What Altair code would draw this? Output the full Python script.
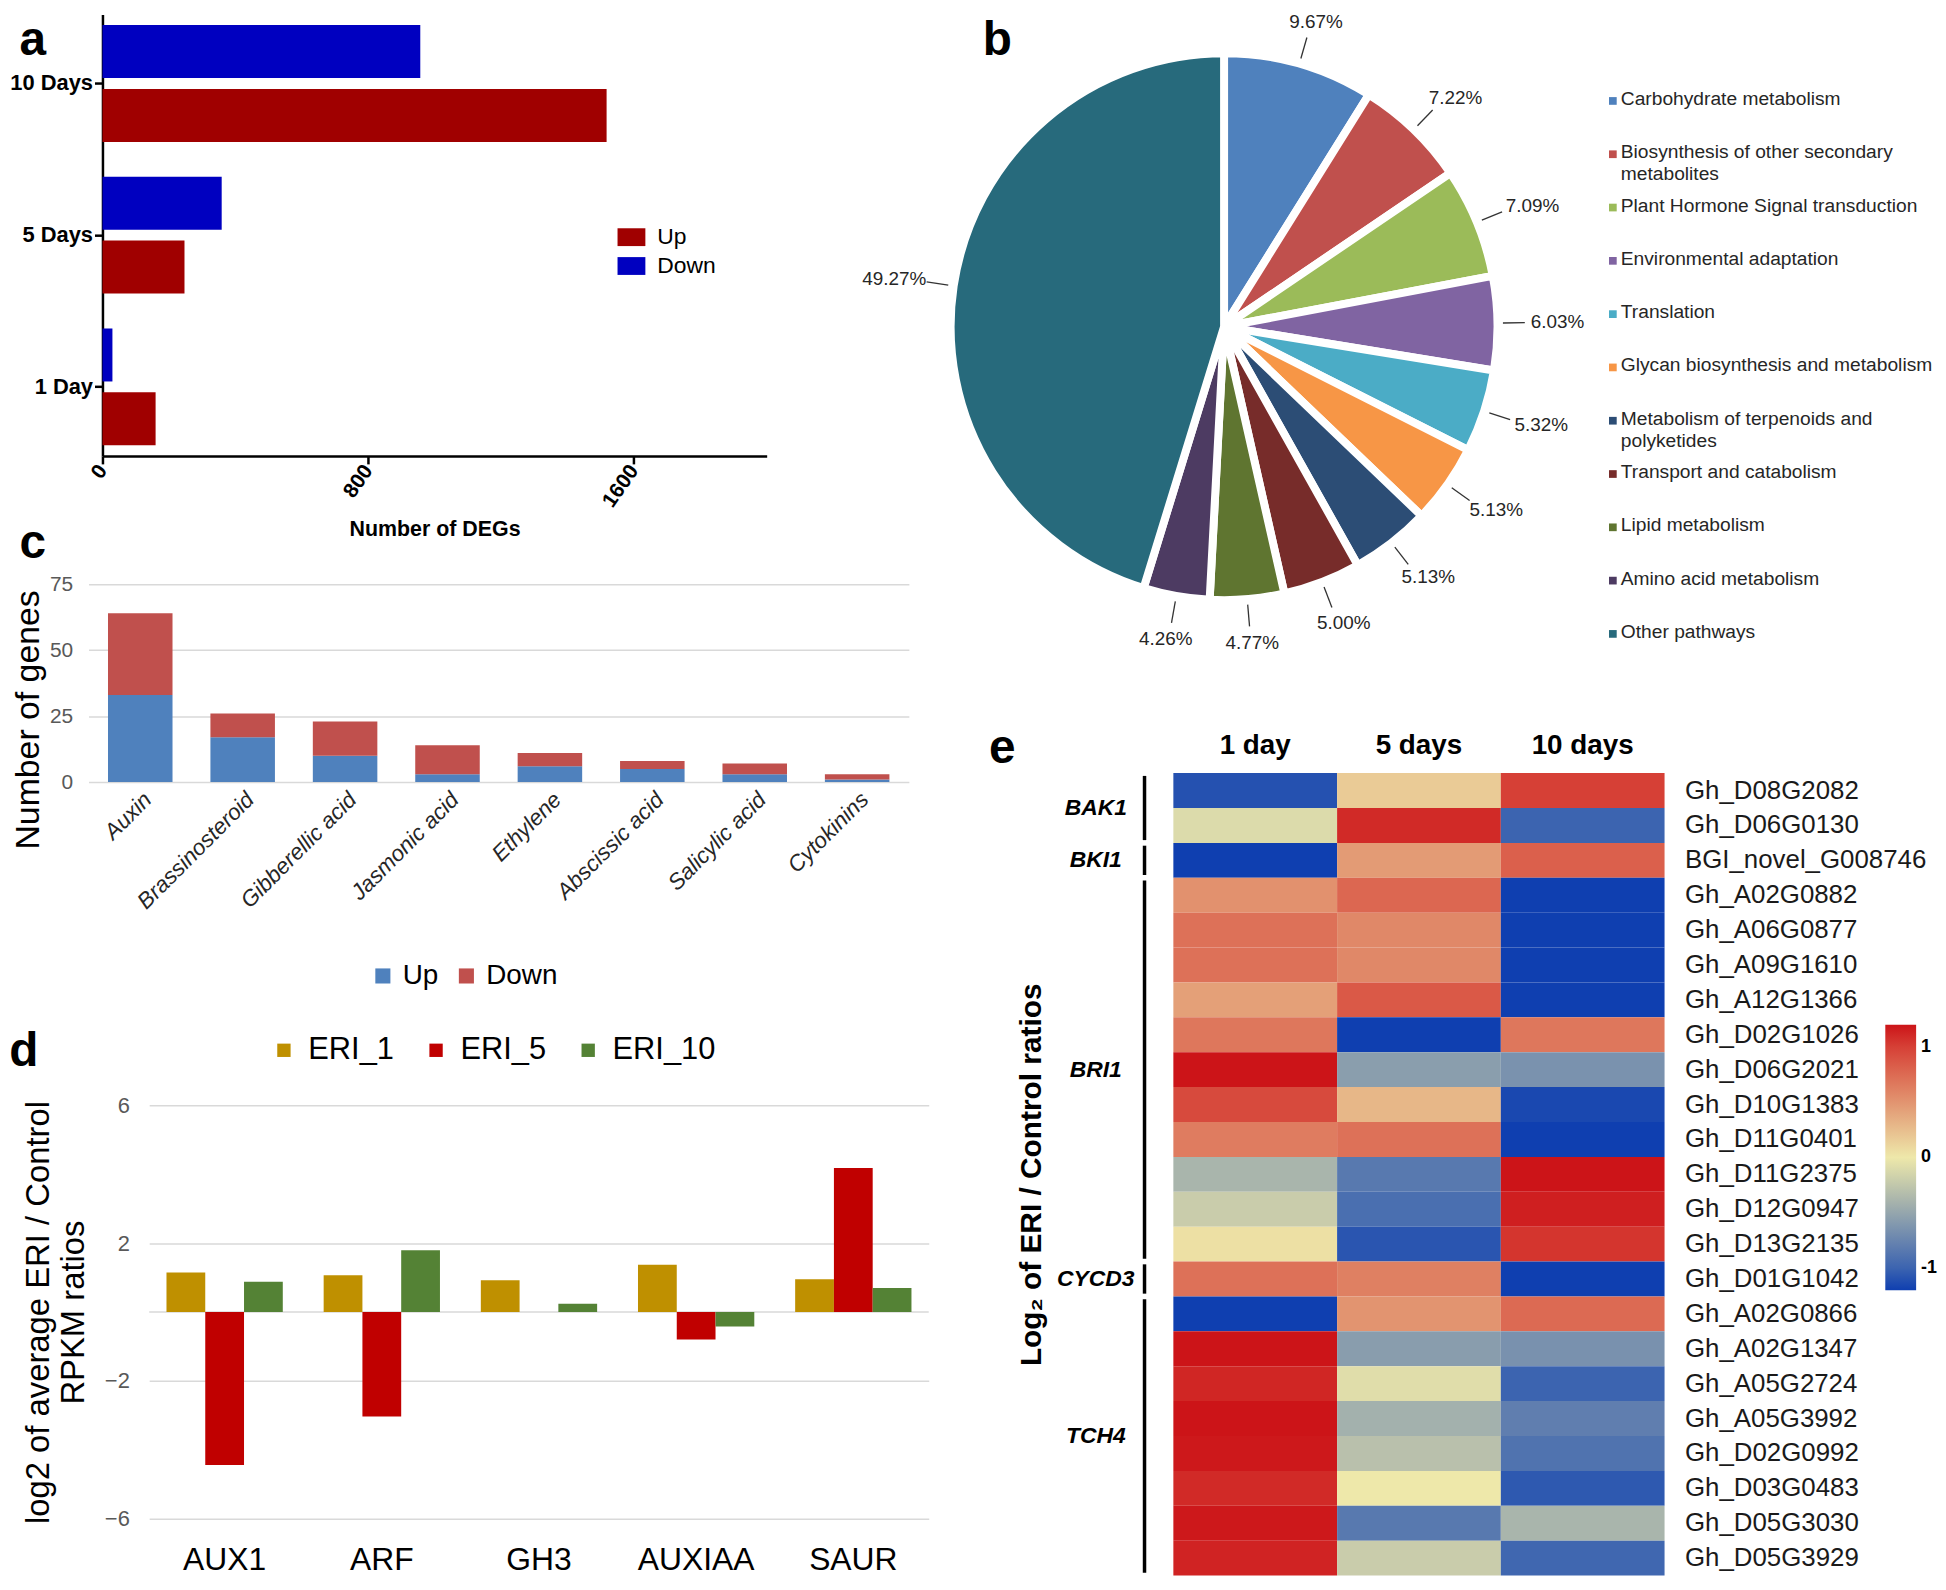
import altair as alt
import pandas as pd

FONT = "Liberation Sans"

# ---------------- data ----------------
# a
a_days = ["10 Days", "5 Days", "1 Day"]
a_up = [1518, 247, 160]
a_down = [957, 359, 30]

# b
pie_names = ["Carbohydrate metabolism", "Biosynthesis of other secondary metabolites",
             "Plant Hormone Signal transduction", "Environmental adaptation", "Translation",
             "Glycan biosynthesis and metabolism", "Metabolism of terpenoids and polyketides",
             "Transport and catabolism", "Lipid metabolism", "Amino acid metabolism", "Other pathways"]
pie_legend_text = ["Carbohydrate metabolism", "Biosynthesis of other secondary\nmetabolites",
                   "Plant Hormone Signal transduction", "Environmental adaptation", "Translation",
                   "Glycan biosynthesis and metabolism", "Metabolism of terpenoids and\npolyketides",
                   "Transport and catabolism", "Lipid metabolism", "Amino acid metabolism", "Other pathways"]
pie_values = [9.67, 7.22, 7.09, 6.03, 5.32, 5.13, 5.13, 5.00, 4.77, 4.26, 49.27]
pie_colors = ["#4F81BD", "#C0504D", "#9BBB59", "#8064A2", "#4BACC6", "#F79646",
              "#2C4D75", "#772C2A", "#5F7530", "#4D3B62", "#276A7C"]

# c
c_cats = ["Auxin", "Brassinosteroid", "Gibberellic acid", "Jasmonic acid", "Ethylene",
          "Abscissic acid", "Salicylic acid", "Cytokinins"]
c_up = [33, 17, 10, 3, 6, 5, 3, 1]
c_down = [31, 9, 13, 11, 5, 3, 4, 2]

# d
d_genes = ["AUX1", "ARF", "GH3", "AUXIAA", "SAUR"]
d_series = ["ERI_1", "ERI_5", "ERI_10"]
d_eri1 = [1.15, 1.07, 0.92, 1.37, 0.95]
d_eri5 = [-4.44, -3.03, 0.0, -0.80, 4.18]
d_eri10 = [0.88, 1.79, 0.24, -0.42, 0.70]

# e
e_days = ["1 day", "5 days", "10 days"]
e_genes = ["Gh_D08G2082", "Gh_D06G0130", "BGI_novel_G008746", "Gh_A02G0882", "Gh_A06G0877",
           "Gh_A09G1610", "Gh_A12G1366", "Gh_D02G1026", "Gh_D06G2021", "Gh_D10G1383",
           "Gh_D11G0401", "Gh_D11G2375", "Gh_D12G0947", "Gh_D13G2135", "Gh_D01G1042",
           "Gh_A02G0866", "Gh_A02G1347", "Gh_A05G2724", "Gh_A05G3992", "Gh_D02G0992",
           "Gh_D03G0483", "Gh_D05G3030", "Gh_D05G3929"]
e_day1 = [-1.1, -0.1, -1.3, 0.52, 0.71, 0.71, 0.43, 0.67, 1.3, 0.94, 0.64, -0.39, -0.21,
          0.05, 0.71, -1.3, 1.3, 1.12, 1.3, 1.18, 1.1, 1.18, 1.13]
e_day5 = [0.17, 1.1, 0.46, 0.77, 0.57, 0.57, 0.85, -1.3, -0.56, 0.29, 0.71, -0.84, -0.92,
          -1.08, 0.62, 0.5, -0.57, -0.08, -0.42, -0.3, 0.0, -0.84, -0.21]
e_day10 = [1.0, -1.0, 0.81, -1.3, -1.3, -1.3, -1.3, 0.67, -0.65, -1.15, -1.3, 1.25, 1.15,
           1.05, -1.3, 0.75, -0.66, -1.0, -0.8, -0.89, -1.06, -0.39, -0.98]
e_groups = ["BAK1", "BKI1", "BRI1", "CYCD3", "TCH4"]
e_group_sizes = [2, 1, 11, 1, 8]


# ---------------- helpers ----------------
def letter(ch, dx, dy):
    return alt.Chart(pd.DataFrame({"t": [ch]})).mark_text(
        font=FONT, fontSize=48, fontWeight="bold", align="center", baseline="alphabetic", color="black"
    ).encode(text="t:N", x=alt.value(dx), y=alt.value(dy))


def spacer(w, h=1):
    return alt.Chart(pd.DataFrame({"s": [0]})).mark_rule(opacity=0).encode(
        x=alt.value(0), y=alt.value(0), y2=alt.value(1)
    ).properties(width=w, height=h)


def H(*charts, s=0):
    return alt.hconcat(*charts, spacing=s).resolve_scale(color="independent")


def V(*charts, s=0):
    return alt.vconcat(*charts, spacing=s).resolve_scale(color="independent")


RECT_SYM = "M-1,-0.64H1V0.64H-1Z"

# ---------------- panel a ----------------
df_a = pd.DataFrame({"day": a_days * 2, "dir": ["Up"] * 3 + ["Down"] * 3, "n": a_up + a_down})
ax_a = dict(domainColor="black", domainWidth=2.5, tickColor="black", tickWidth=2.5, tickSize=8,
            labelFont=FONT, labelFontWeight="bold", labelColor="black")
bars_a = alt.Chart(df_a).mark_bar().encode(
    x=alt.X("n:Q", stack=None, scale=alt.Scale(domain=[0, 2000], nice=False),
            axis=alt.Axis(values=[0, 800, 1600], format="d", labelAngle=-55, grid=False, labelFontSize=21,
                          title="Number of DEGs", titleFont=FONT, titleFontSize=21.5, titleFontWeight="bold",
                          titleColor="black", titlePadding=8, labelPadding=3, **ax_a)),
    y=alt.Y("day:N", sort=a_days, scale=alt.Scale(paddingInner=0.23, paddingOuter=0.07),
            axis=alt.Axis(title=None, labelPadding=2, labelFontSize=22, **ax_a)),
    yOffset=alt.YOffset("dir:N", sort=["Down", "Up"], scale=alt.Scale(paddingInner=0.17)),
    color=alt.Color("dir:N", scale=alt.Scale(domain=["Up", "Down"], range=["#A00000", "#0000C0"]),
                    legend=alt.Legend(title=None, orient="none", legendX=518, legendY=210,
                                      symbolType=RECT_SYM, symbolSize=784, symbolStrokeWidth=0,
                                      labelFont=FONT, labelFontSize=23, labelColor="black",
                                      rowPadding=3, labelOffset=12)),
)
chart_a = alt.layer(bars_a, letter("a", -70, 41)).properties(width=668, height=444)

# ---------------- panel b ----------------
R = 275
W_B, H_B = 560, 628
df_b = pd.DataFrame({"cat": pie_names, "v": pie_values, "idx": list(range(len(pie_names))),
                     "pct": [f"{v:.2f}%" for v in pie_values], "legend": pie_legend_text})
color_b = alt.Color("cat:N", scale=alt.Scale(domain=pie_names, range=pie_colors), legend=None)
xs = alt.Scale(domain=[-W_B / 2 / R, W_B / 2 / R], nice=False, zero=False)
ys = alt.Scale(domain=[-H_B / 2 / R, H_B / 2 / R], nice=False, zero=False)

arc_b = alt.Chart(df_b).mark_arc(outerRadius=R, stroke="white", strokeWidth=8).encode(
    theta=alt.Theta("v:Q", stack=True), color=color_b, order=alt.Order("idx:Q"))

geo_b = alt.Chart(df_b).transform_joinaggregate(total="sum(v)").transform_window(
    cum="sum(v)", sort=[alt.SortField("idx", order="ascending")], frame=[None, 0]
).transform_calculate(mid="2*PI*(datum.cum - datum.v/2)/datum.total").transform_calculate(
    x1="sin(datum.mid)*1.02", y1="cos(datum.mid)*1.02",
    x2="sin(datum.mid)*1.1", y2="cos(datum.mid)*1.1",
    xt="sin(datum.mid)*1.22", yt="cos(datum.mid)*1.16")
lead_b = geo_b.mark_rule(color="#333333", strokeWidth=1.3).encode(
    x=alt.X("x1:Q", scale=xs, axis=None), y=alt.Y("y1:Q", scale=ys, axis=None),
    x2="x2:Q", y2="y2:Q")
pct_b = geo_b.mark_text(font=FONT, fontSize=19, color="#262626").encode(
    x=alt.X("xt:Q", scale=xs, axis=None), y=alt.Y("yt:Q", scale=ys, axis=None), text="pct:N")

leg_y = alt.Y("cat:N", sort=pie_names, scale=alt.Scale(type="point", range=[87, 623], padding=0), axis=None)
leg_sq = alt.Chart(df_b).mark_square(size=60, opacity=1).encode(x=alt.value(671), y=leg_y, color=color_b)
leg_tx = alt.Chart(df_b).mark_text(align="left", baseline="top", dy=-11, lineBreak="\n", font=FONT,
                                   fontSize=19.3, lineHeight=22, color="#262626").encode(
    x=alt.value(679), y=leg_y, text="legend:N")
chart_b = alt.layer(arc_b, lead_b, pct_b, leg_sq, leg_tx, letter("b", 52, 41)).resolve_scale(
    y="independent").properties(width=W_B, height=H_B)

# ---------------- panel c ----------------
df_c = pd.DataFrame({"hormone": c_cats * 2, "dir": ["Up"] * 8 + ["Down"] * 8,
                     "ord": [0] * 8 + [1] * 8, "n": c_up + c_down})
bars_c = alt.Chart(df_c).mark_bar().encode(
    x=alt.X("hormone:N", sort=c_cats, scale=alt.Scale(paddingInner=0.37, paddingOuter=0.19),
            axis=alt.Axis(title=None, labelAngle=-45, labelFont=FONT, labelFontStyle="italic",
                          labelFontSize=22.5, labelColor="#262626", ticks=False, domain=False, labelPadding=6)),
    y=alt.Y("n:Q", stack=True, scale=alt.Scale(domain=[0, 75], nice=False),
            axis=alt.Axis(values=[0, 25, 50, 75], title="Number of genes", grid=True, gridColor="#D9D9D9",
                          gridWidth=1.5, domain=False, ticks=False, labelFont=FONT, labelFontSize=21,
                          labelColor="#595959", labelPadding=16, titleFont=FONT, titleFontSize=34,
                          titleFontWeight="normal", titleColor="black", titlePadding=4, titleY=136)),
    color=alt.Color("dir:N", scale=alt.Scale(domain=["Up", "Down"], range=["#4F81BD", "#C0504D"]),
                    legend=alt.Legend(title=None, orient="none", direction="horizontal", legendX=282,
                                      legendY=380, symbolType="square", symbolSize=230, symbolStrokeWidth=0,
                                      labelFont=FONT, labelFontSize=28, labelColor="black",
                                      columnPadding=14, labelOffset=6)),
    order=alt.Order("ord:Q"),
)
chart_c = alt.layer(bars_c, letter("c", -56, -26)).properties(width=825, height=199)

# ---------------- panel d ----------------
df_d = pd.DataFrame({"gene": d_genes * 3, "series": [s for s in d_series for _ in d_genes],
                     "val": d_eri1 + d_eri5 + d_eri10})
bars_d = alt.Chart(df_d).mark_bar().encode(
    x=alt.X("gene:N", sort=d_genes, scale=alt.Scale(paddingInner=0.26, paddingOuter=0.11),
            axis=alt.Axis(title=None, labelAngle=0, labelFont=FONT, labelFontSize=32, labelColor="black",
                          ticks=False, domain=False, labelPadding=26)),
    xOffset=alt.XOffset("series:N", sort=d_series, scale=alt.Scale(paddingInner=0, paddingOuter=0)),
    y=alt.Y("val:Q", stack=None, scale=alt.Scale(domain=[-6, 6], nice=False),
            axis=alt.Axis(values=[-6, -2, 2, 6], title=["log2 of average ERI / Control", "RPKM ratios"],
                          grid=True, gridColor="#D9D9D9", gridWidth=1.5, domain=False, ticks=False,
                          labelFont=FONT, labelFontSize=22, labelColor="#595959", labelPadding=20,
                          titleFont=FONT, titleFontSize=33, titleFontWeight="normal", titleColor="black",
                          titlePadding=14, titleLineHeight=35)),
    color=alt.Color("series:N", scale=alt.Scale(domain=d_series, range=["#BF9000", "#C00000", "#548235"]),
                    legend=alt.Legend(title=None, orient="none", direction="horizontal", legendX=120,
                                      legendY=-71, symbolType="square", symbolSize=180, symbolStrokeWidth=0,
                                      labelFont=FONT, labelFontSize=31, labelColor="black",
                                      columnPadding=26, labelOffset=9)),
)
zero_d = alt.Chart(pd.DataFrame({"z": [0]})).mark_rule(color="#D9D9D9", strokeWidth=1.5).encode(y="z:Q")
chart_d = alt.layer(zero_d, bars_d, letter("d", -126, -39)).properties(width=784, height=416)

# ---------------- panel e ----------------
df_e = pd.DataFrame({"gene": e_genes * 3, "day": [d for d in e_days for _ in e_genes],
                     "val": e_day1 + e_day5 + e_day10})
heat = alt.Chart(df_e).mark_rect().encode(
    x=alt.X("day:N", sort=e_days, scale=alt.Scale(paddingInner=0, paddingOuter=0),
            axis=alt.Axis(orient="top", title=None, labelAngle=0, labelFont=FONT, labelFontSize=28,
                          labelFontWeight="bold", labelColor="black", ticks=False, domain=False, labelPadding=14)),
    y=alt.Y("gene:N", sort=e_genes, scale=alt.Scale(paddingInner=0, paddingOuter=0),
            axis=alt.Axis(orient="right", title=None, labelFont=FONT, labelFontSize=26, labelColor="#1a1a1a",
                          ticks=False, domain=False, labelPadding=20, labelLimit=400)),
    color=alt.Color("val:Q", scale=alt.Scale(domain=[-1.2, -1, 0, 1, 1.2],
                                             range=["#0F3FB0", "#3C64B0", "#EEE8AA", "#D64036", "#CC1418"],
                                             clamp=True, interpolate="rgb"),
                    legend=alt.Legend(title=None, orient="none", legendX=716, legendY=253, direction="vertical",
                                      gradientLength=267, gradientThickness=31, values=[-1, 0, 1],
                                      labelExpr="'' + datum.value",
                                      labelFont=FONT, labelFontSize=18, labelFontWeight="bold",
                                      labelColor="black", labelOffset=5, gradientStrokeWidth=0)),
)
starts, ends = [], []
pos = 0
for n in e_group_sizes:
    starts.append(pos)
    ends.append(pos + n - 1)
    pos += n
df_g = pd.DataFrame({"grp": e_groups, "start": starts, "end": ends})
df_g["mid"] = (df_g["start"] + df_g["end"]) / 2
df_g["y1"] = df_g["start"] - 0.42
df_g["y2"] = df_g["end"] + 0.42
gy = alt.Scale(domain=[len(e_genes) - 0.5, -0.5], nice=False, zero=False)
g_rule = alt.Chart(df_g).mark_rule(color="black", strokeWidth=3.5).encode(
    x=alt.value(-29),
    y=alt.Y("y1:Q", scale=gy, axis=alt.Axis(orient="left", title="Log\u2082 of ERI / Control ratios", labels=False,
                                            ticks=False, domain=False, grid=False, titleFont=FONT,
                                            titleFontSize=30, titleFontWeight="bold", titleColor="black",
                                            titlePadding=128)),
    y2="y2:Q")
g_text = alt.Chart(df_g).mark_text(align="center", baseline="middle", font=FONT, fontSize=23, fontWeight="bold",
                                   fontStyle="italic", color="black").encode(
    x=alt.value(-78), y=alt.Y("mid:Q", scale=gy, axis=None), text="grp:N")
chart_e = alt.layer(heat, g_rule, g_text, letter("e", -172, -10)).resolve_scale(
    y="independent").properties(width=494, height=807)

# ---------------- layout ----------------
a_row = H(spacer(1), chart_a)
c_row = H(spacer(3), chart_c)
d_row = H(spacer(1), chart_d)
e_row = H(spacer(43), chart_e)

col1 = V(a_row, V(c_row, d_row, s=39), s=-20)
col2 = V(chart_b, e_row, s=73)

chart = H(col1, col2, s=-68).properties(padding=0).configure(font=FONT).configure_view(strokeWidth=0)

chart.save("out.html", embed_options={"renderer": "svg", "actions": False})
